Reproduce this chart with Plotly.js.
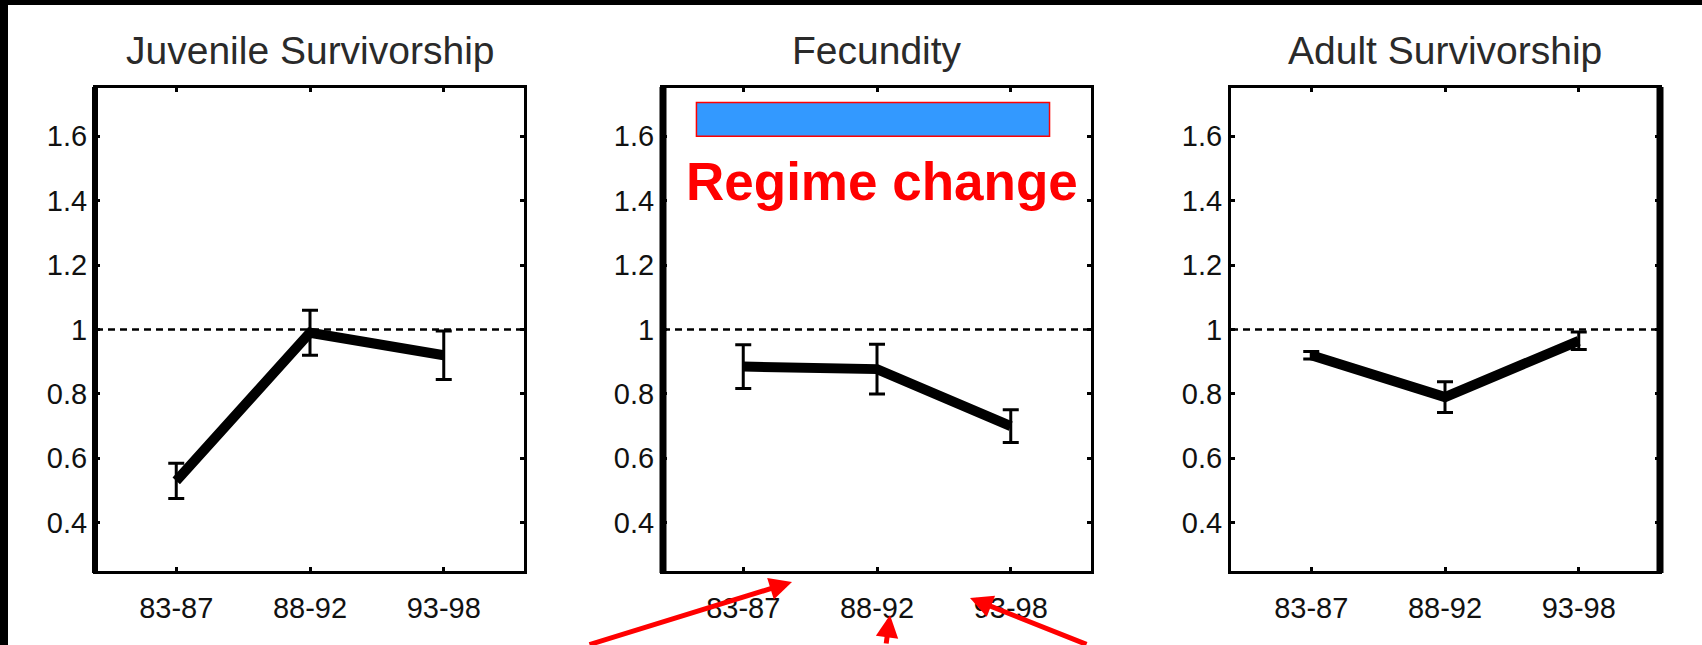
<!DOCTYPE html>
<html>
<head>
<meta charset="utf-8">
<script src="https://cdn.plot.ly/plotly-3.0.1.min.js"></script>
<style>
  html, body { margin: 0; padding: 0; background: #ffffff; }
  #chart { width: 1702px; height: 645px; }
</style>
</head>
<body>
<div id="chart"></div>
<script>
// ---- data ----
const periods = ['83-87', '88-92', '93-98'];
const panelTitles = ['Juvenile Survivorship', 'Fecundity', 'Adult Survivorship'];
const juvenileMean = [0.53, 0.99, 0.92];
const juvenileErr  = [0.055, 0.07, 0.075];
const fecundityMean = [0.885, 0.877, 0.70];
const fecundityErr  = [0.068, 0.077, 0.051];
const adultMean = [0.92, 0.79, 0.965];
const adultErr  = [0.012, 0.048, 0.027];
const yTickVals = [0.4, 0.6, 0.8, 1, 1.2, 1.4, 1.6];
const yTickText = ['0.4', '0.6', '0.8', '1', '1.2', '1.4', '1.6'];
const referenceLevel = 1;
const annotationText = 'Regime change';

// ---- layout helpers (pixel -> paper) ----
const W = 1702, H = 645;
const px = v => v / W;
const py = v => 1 - v / H;

const FONT = 'Liberation Sans, Arial, sans-serif';
const domainsX = [[px(96), px(524)], [px(663), px(1091)], [px(1231), px(1659)]];
const domainY = [py(571), py(88)];

const series = [
  {mean: juvenileMean, err: juvenileErr},
  {mean: fecundityMean, err: fecundityErr},
  {mean: adultMean, err: adultErr}
];

const traces = series.map((s, i) => ({
  type: 'scatter',
  mode: 'lines',
  x: periods,
  y: s.mean,
  xaxis: i === 0 ? 'x' : 'x' + (i + 1),
  yaxis: i === 0 ? 'y' : 'y' + (i + 1),
  line: {color: '#000000', width: 10},
  error_y: {type: 'data', array: s.err, visible: true, color: '#000000', thickness: 3, width: 8},
  hoverinfo: 'skip',
  showlegend: false
}));

const layout = {
  width: W, height: H,
  margin: {l: 0, r: 0, t: 0, b: 0, pad: 0},
  paper_bgcolor: '#ffffff',
  plot_bgcolor: '#ffffff',
  showlegend: false,
  font: {family: FONT, color: '#000000'},
  shapes: [],
  annotations: []
};

for (let i = 0; i < 3; i++) {
  const sx = i === 0 ? '' : String(i + 1);
  layout['xaxis' + sx] = {
    domain: domainsX[i],
    anchor: 'y' + sx,
    type: 'category',
    range: [-0.6, 2.6],
    showgrid: false, zeroline: false,
    showline: true, mirror: 'ticks', linecolor: '#000000', linewidth: 3,
    ticks: 'inside', ticklen: 4, tickwidth: 3, tickcolor: '#000000',
    tickfont: {family: FONT, size: 29, color: '#111111'},
    ticklabelstandoff: 9,
    fixedrange: true
  };
  layout['yaxis' + sx] = {
    domain: domainY,
    anchor: 'x' + sx,
    range: [0.25, 1.75],
    tickvals: yTickVals, ticktext: yTickText,
    showgrid: false, zeroline: false,
    showline: true, mirror: 'ticks', linecolor: '#000000', linewidth: 3,
    ticks: 'inside', ticklen: 4, tickwidth: 3, tickcolor: '#000000',
    tickfont: {family: FONT, size: 29, color: '#111111'},
    fixedrange: true
  };
  // dotted reference line at 1
  layout.shapes.push({
    type: 'line', xref: 'x' + sx + ' domain', yref: 'y' + sx,
    x0: 0, x1: 1, y0: referenceLevel, y1: referenceLevel,
    line: {color: '#000000', width: 2.5, dash: '7px,5px'}, layer: 'below'
  });
  // panel titles
  layout.annotations.push({
    xref: 'paper', yref: 'paper',
    x: (domainsX[i][0] + domainsX[i][1]) / 2, y: py(50),
    xanchor: 'center', yanchor: 'middle',
    text: panelTitles[i], showarrow: false,
    font: {family: FONT, size: 39, color: '#2a2a2a'}
  });
}

// thicker frame sides as in the reference
layout.shapes.push(
  {type: 'line', xref: 'paper', yref: 'paper', x0: px(95), x1: px(95), y0: py(573), y1: py(87), line: {color: '#000', width: 6}},
  {type: 'line', xref: 'paper', yref: 'paper', x0: px(663), x1: px(663), y0: py(573), y1: py(87), line: {color: '#000', width: 7}},
  {type: 'line', xref: 'paper', yref: 'paper', x0: px(1660), x1: px(1660), y0: py(573), y1: py(87), line: {color: '#000', width: 7}}
);

// black border strips (top and left)
layout.shapes.push(
  {type: 'rect', xref: 'paper', yref: 'paper', x0: 0, x1: px(8), y0: 0, y1: 1, fillcolor: '#000', line: {width: 0}},
  {type: 'rect', xref: 'paper', yref: 'paper', x0: 0, x1: 1, y0: py(5), y1: 1, fillcolor: '#000', line: {width: 0}}
);

// blue "regime" bar in the fecundity panel
layout.shapes.push({
  type: 'rect', xref: 'x2', yref: 'y2',
  x0: -0.35, x1: 2.29, y0: 1.60, y1: 1.705,
  fillcolor: '#3399ff', line: {color: '#ff0000', width: 1.5}
});

layout.annotations.push({
  xref: 'paper', yref: 'paper', x: px(882), y: py(181),
  xanchor: 'center', yanchor: 'middle',
  text: '<b>' + annotationText + '</b>', showarrow: false,
  font: {family: FONT, size: 53, color: '#ff0000'}
});

// red arrows pointing at the x labels
const arrows = [
  {hx: 792, hy: 582, ax: -204, ay: 66},
  {hx: 890, hy: 615, ax: -4, ay: 34},
  {hx: 970, hy: 598, ax: 118, ay: 49}
];
arrows.forEach(a => layout.annotations.push({
  xref: 'paper', yref: 'paper', x: px(a.hx), y: py(a.hy),
  text: '', showarrow: true, arrowhead: 2, arrowsize: 0.9, arrowwidth: 5,
  arrowcolor: '#ff0000', ax: a.ax, ay: a.ay, standoff: 0, startstandoff: 0
}));

Plotly.newPlot('chart', traces, layout, {displayModeBar: false, staticPlot: true});
</script>
</body>
</html>
